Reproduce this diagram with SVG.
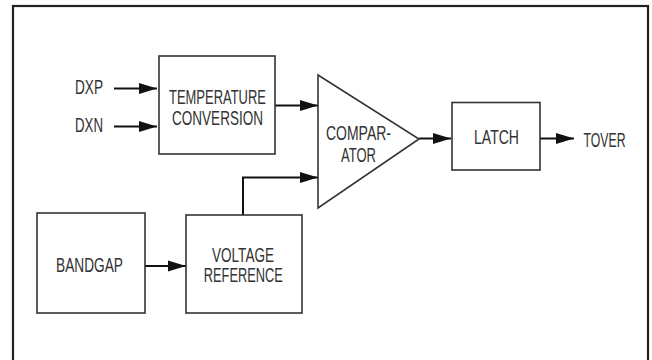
<svg xmlns="http://www.w3.org/2000/svg" width="652" height="360" viewBox="0 0 652 360">
<defs>
<marker id="ah" markerUnits="userSpaceOnUse" markerWidth="18" markerHeight="12" refX="18" refY="6" orient="auto" viewBox="0 0 18 12">
<path d="M0,0.5 L18,6 L0,11.5 z" fill="#111"/>
</marker>
</defs>
<style>
.box{fill:#fff;stroke:#333;stroke-width:1.6}
.frame{fill:#fff;stroke:#222;stroke-width:2.2}
.wire{fill:none;stroke:#111;stroke-width:2;marker-end:url(#ah)}
text{font-family:"Liberation Sans",Arial,sans-serif;font-size:19.5px;fill:#333;text-anchor:middle}
</style>
<rect class="frame" x="13" y="6" width="635" height="400"/>
<g id="connectors">
<line class="wire" x1="114" y1="88.5" x2="157" y2="88.5"/>
<line class="wire" x1="114" y1="126.5" x2="157" y2="126.5"/>
<line class="wire" x1="275" y1="105.5" x2="318" y2="105.5"/>
<polyline class="wire" points="243,215 243,177.5 318,177.5"/>
<line class="wire" x1="145" y1="266" x2="186" y2="266"/>
<line class="wire" x1="419" y1="138.5" x2="451" y2="138.5"/>
<line class="wire" x1="540" y1="138.5" x2="574" y2="138.5"/>
</g>
<g id="dxp"><text x="89" y="93.5" textLength="28" lengthAdjust="spacingAndGlyphs">DXP</text></g>
<g id="dxn"><text x="89" y="131.5" textLength="28" lengthAdjust="spacingAndGlyphs">DXN</text></g>
<g id="temp">
<rect class="box" x="159" y="56" width="116" height="98"/>
<text x="217.5" y="103.5" textLength="97" lengthAdjust="spacingAndGlyphs">TEMPERATURE</text>
<text x="217.5" y="124.5" textLength="91" lengthAdjust="spacingAndGlyphs">CONVERSION</text>
</g>
<g id="comparator">
<polygon class="box" points="318,75 318,208 419,139"/>
<text x="358.5" y="139.5" textLength="65" lengthAdjust="spacingAndGlyphs">COMPAR-</text>
<text x="358.5" y="162" textLength="35" lengthAdjust="spacingAndGlyphs">ATOR</text>
</g>
<g id="latch">
<rect class="box" x="452" y="102.5" width="88" height="67.5"/>
<text x="496.5" y="143.5" textLength="45" lengthAdjust="spacingAndGlyphs">LATCH</text>
</g>
<g id="tover"><text x="604.5" y="146.5" textLength="42" lengthAdjust="spacingAndGlyphs">TOVER</text></g>
<g id="bandgap">
<rect class="box" x="37" y="213" width="108" height="100"/>
<text x="89.5" y="272" textLength="67" lengthAdjust="spacingAndGlyphs">BANDGAP</text>
</g>
<g id="vref">
<rect class="box" x="186" y="215" width="116" height="98"/>
<text x="243" y="262" textLength="62" lengthAdjust="spacingAndGlyphs">VOLTAGE</text>
<text x="243.3" y="282" textLength="79" lengthAdjust="spacingAndGlyphs">REFERENCE</text>
</g>
</svg>
